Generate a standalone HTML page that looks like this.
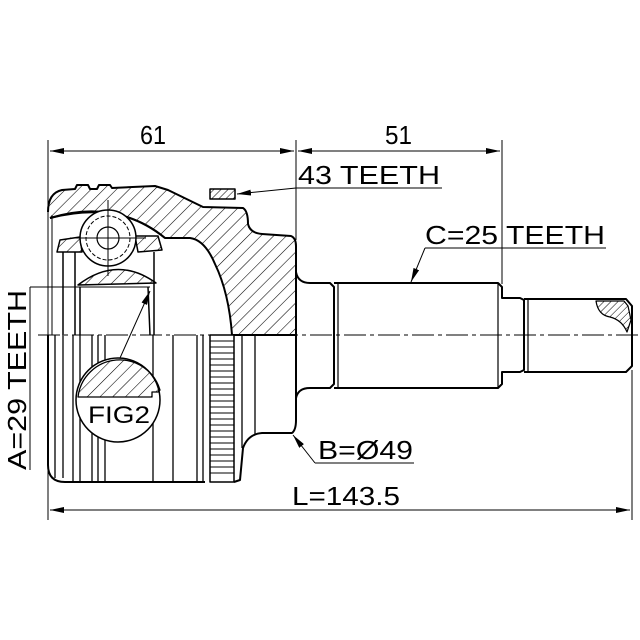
<!DOCTYPE html>
<html><head><meta charset="utf-8"><style>
html,body{margin:0;padding:0;background:#fff}
svg{display:block}
text{font-family:"Liberation Sans",Arial,sans-serif;fill:#000}
</style></head><body>
<svg width="640" height="640" viewBox="0 0 640 640" xmlns="http://www.w3.org/2000/svg">
<defs>
<pattern id="h" patternUnits="userSpaceOnUse" width="9" height="9" patternTransform="rotate(45)">
<line x1="0" y1="0" x2="0" y2="9" stroke="#000" stroke-width="1.1"/>
</pattern>
<pattern id="h2" patternUnits="userSpaceOnUse" width="5" height="5" patternTransform="rotate(45)">
<line x1="0" y1="0" x2="0" y2="5" stroke="#000" stroke-width="1"/>
</pattern>
<marker id="a" markerWidth="14" markerHeight="6" refX="14" refY="3" orient="auto" markerUnits="userSpaceOnUse">
<path d="M0,0 L14,3 L0,6 Z" fill="#000"/>
</marker>
<marker id="as" markerWidth="14" markerHeight="6" refX="0" refY="3" orient="auto" markerUnits="userSpaceOnUse">
<path d="M14,0 L0,3 L14,6 Z" fill="#000"/>
</marker>
</defs>

<g stroke="#000" fill="none" stroke-width="1">
<line x1="48" y1="140" x2="48" y2="520"/>
<line x1="296" y1="140" x2="296" y2="240"/>
<line x1="502" y1="140" x2="502" y2="284"/>
<line x1="632" y1="370" x2="632" y2="520"/>
<line x1="50" y1="151" x2="294" y2="151" marker-start="url(#as)" marker-end="url(#a)"/>
<line x1="298" y1="151" x2="500" y2="151" marker-start="url(#as)" marker-end="url(#a)"/>
<line x1="50" y1="510" x2="630" y2="510" marker-start="url(#as)" marker-end="url(#a)"/>
<line x1="296" y1="188" x2="442" y2="188"/>
<line x1="296" y1="188" x2="237" y2="194" marker-end="url(#a)"/>
<line x1="425" y1="248" x2="606" y2="248"/>
<line x1="425" y1="248" x2="411" y2="282" marker-end="url(#a)"/>
<line x1="315" y1="463" x2="414" y2="463"/>
<line x1="315" y1="463" x2="293" y2="435" marker-end="url(#a)"/>
<line x1="30" y1="287" x2="150" y2="287"/>
<line x1="30" y1="287" x2="30" y2="470"/>
<line x1="120" y1="358" x2="150" y2="291" marker-end="url(#a)"/>
<line x1="38" y1="335" x2="640" y2="335" stroke-dasharray="22,4,4,4"/>
</g>

<g stroke="#000" stroke-width="2" fill="none" stroke-linejoin="round">
<path d="M48,212 Q48,193 62,190 L75,189 L77,185 L88,185 L90,189 L97,189 L99,185 L110,185 L112,188 L155,186 L168,190 L203,207 L243,208 Q248,211 248,224 Q250,233 262,234 L291,236 Q296,238 296,246 L296,335 L232,335 Q229,293 215,264 Q205,240 190,238 L165,238 Q120,200 50,218" fill="url(#h)"/>
<path d="M50,218 Q115,198 165,238"/>
<rect x="210" y="189" width="25" height="10" fill="url(#h2)" stroke-width="1.5"/>
<path d="M57,252 L60,240 L80,237 L82,252 Z" fill="url(#h)" stroke-width="1.5"/>
<path d="M135,236 L158,236 L162,250 L138,252 Z" fill="url(#h)" stroke-width="1.5"/>
<path d="M78,285 Q117,255 156,283 Z" fill="url(#h)" stroke-width="1.5"/>
<circle cx="108" cy="238" r="28" fill="#fff" stroke-width="1.5"/>
<circle cx="108" cy="238" r="22" stroke-width="1" stroke-dasharray="4,2"/>
<circle cx="108" cy="238" r="11" stroke-width="1.2"/>
<line x1="108" y1="200" x2="108" y2="276" stroke-width="1"/>
<line x1="70" y1="238" x2="146" y2="238" stroke-width="1"/>
<path d="M63,252 L63,335 M75,252 L75,335 M80,287 L80,335 M148,287 L150,335 M154,252 L154,335" stroke-width="1.5"/>
<line x1="52" y1="215" x2="52" y2="335" stroke-width="1"/>
<path d="M48,335 L48,465 Q48,482 65,482 L205,482"/>
<path d="M234,482 L240,480 L243,448 Q248,434 262,433 L292,433 Q296,430 296,420 L296,335"/>
<g stroke-width="1.3">
<line x1="55" y1="335" x2="55" y2="478"/>
<line x1="63" y1="335" x2="63" y2="478"/>
<line x1="73" y1="335" x2="73" y2="482"/>
<line x1="80" y1="335" x2="80" y2="482"/>
<line x1="92" y1="335" x2="92" y2="482"/>
<line x1="98" y1="335" x2="98" y2="482"/>
<line x1="105" y1="335" x2="105" y2="482"/>
<line x1="153" y1="335" x2="153" y2="482"/>
<line x1="173" y1="335" x2="173" y2="482"/>
<line x1="197" y1="335" x2="197" y2="482"/>
<line x1="203" y1="335" x2="203" y2="482"/>
<line x1="242" y1="335" x2="242" y2="448"/>
<line x1="255" y1="335" x2="255" y2="434"/>
</g>
<rect x="210" y="335" width="24" height="147" fill="#fff" stroke-width="1.5"/>
<path d="M210,341H234M210,347H234M210,353H234M210,359H234M210,365H234M210,371H234M210,377H234M210,383H234M210,389H234M210,395H234M210,401H234M210,407H234M210,413H234M210,419H234M210,425H234M210,431H234M210,437H234M210,443H234M210,449H234M210,455H234M210,461H234M210,467H234M210,473H234" stroke-width="1"/>
<circle cx="118" cy="400" r="42" fill="#fff" stroke-width="1.5"/>
<path d="M78,397 A42,42 0 0 1 160,390 L158,392 L152,392 L152,397 Z" fill="url(#h)" stroke-width="1.3"/>
<path d="M296,272 Q298,283 310,283 L330,283 L334,287 L334,384 L330,388 L310,388 Q298,388 296,398" />
<path d="M334,283 L498,283 L502,287 L502,298 L520,298 L524,300 L524,370 L520,372 L502,372 L502,384 L498,388 L334,388"/>
<line x1="338" y1="283" x2="338" y2="388" stroke-width="1.2"/>
<line x1="498" y1="283" x2="498" y2="388" stroke-width="1.2"/>
<path d="M524,299 L626,299 L632,306 L632,366 L626,372 L524,372" />
<line x1="528" y1="299" x2="528" y2="372" stroke-width="1.2"/>
<path d="M596,301 Q598,315 610,317 Q622,320 627,332 L631,320 L628,306 L624,301 Z" fill="url(#h2)" stroke-width="1.2"/>
</g>

<text x="140" y="144" font-size="26" textLength="26" lengthAdjust="spacingAndGlyphs">61</text>
<text x="385" y="144" font-size="26" textLength="27" lengthAdjust="spacingAndGlyphs">51</text>
<text x="298" y="184" font-size="26" textLength="142" lengthAdjust="spacingAndGlyphs">43 TEETH</text>
<text x="425" y="244" font-size="26" textLength="180" lengthAdjust="spacingAndGlyphs">C=25 TEETH</text>
<text x="318" y="459" font-size="26" textLength="95" lengthAdjust="spacingAndGlyphs">B=Ø49</text>
<text x="292" y="505" font-size="26" textLength="108" lengthAdjust="spacingAndGlyphs">L=143.5</text>
<text x="88" y="423" font-size="24" textLength="62" lengthAdjust="spacingAndGlyphs">FIG2</text>
<text transform="translate(26,470) rotate(-90)" font-size="26" textLength="180" lengthAdjust="spacingAndGlyphs">A=29 TEETH</text>
</svg>
</body></html>
